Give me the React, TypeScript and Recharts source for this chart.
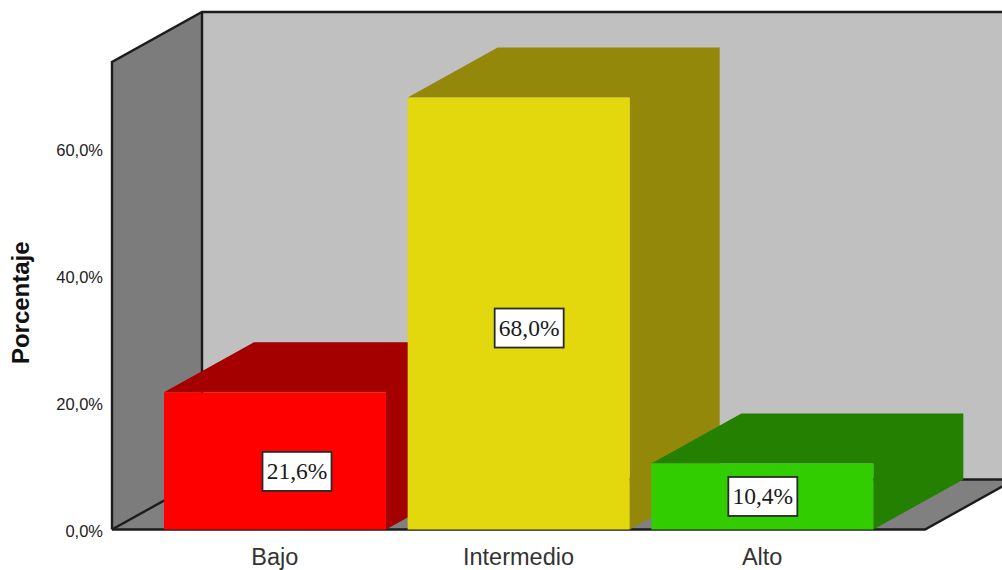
import { BarChart, Bar, XAxis, YAxis, ReferenceArea, LabelList, Label } from "recharts";

const categories = ["Bajo", "Intermedio", "Alto"];
const percentages = [21.6, 68.0, 10.4];
const percentTicks = [0, 20, 40, 60];
const axisMax = 73.6;

const frontColors = ["#ff0000", "#e3d70e", "#32cd00"];
const depthColors = ["#a50000", "#93880a", "#248000"];

// value boxes don't sit exactly at the middle of the front face
const boxShiftX = [22, 10.5, 0.5];
const boxShiftY = [10.5, 14.5, 0];

// oblique projection of the chart's depth
const DEPTH_X = 90;
const DEPTH_Y = 50;
const AXIS_PADDING = 41;

const LINE = "#1c1c1c";

const chartData = categories.map((name, i) => ({ name, value: percentages[i] }));

const formatPercent = (v: number) => `${v.toFixed(1).replace(".", ",")}%`;

// Back wall, side wall and floor of the box. The reference area only spans
// the padded x range, so the axis padding is added back on both sides.
const Walls = ({ x: rangeX, y, width, height }: any) => {
  const x = rangeX - AXIS_PADDING;
  const right = rangeX + width + AXIS_PADDING;
  const bottom = y + height;
  const bx = x + DEPTH_X;
  const by = y - DEPTH_Y;
  const bBottom = bottom - DEPTH_Y;
  return (
    <g>
      <rect x={bx} y={by} width={right - x} height={height} fill="#c0c0c0" />
      <polygon
        points={`${x},${y} ${bx},${by} ${bx},${bBottom} ${x},${bottom}`}
        fill="#7c7c7c"
      />
      <polygon
        points={`${x},${bottom} ${bx},${bBottom} ${right + DEPTH_X},${bBottom} ${right},${bottom}`}
        fill="#808080"
      />
      <g stroke={LINE} strokeWidth={2.4} fill="none">
        <polyline points={`${x},${bottom} ${x},${y} ${bx},${by} ${right + DEPTH_X},${by}`} />
        <line x1={bx} y1={by} x2={bx} y2={bBottom} />
        <polyline points={`${x},${bottom} ${bx},${bBottom} ${right + DEPTH_X},${bBottom}`} />
        <polyline points={`${x},${bottom} ${right},${bottom} ${right + DEPTH_X},${bBottom}`} />
      </g>
    </g>
  );
};

const Box3D = ({ x, y, width, height, index }: any) => {
  const r = x + width;
  const b = y + height;
  return (
    <g>
      <polygon
        points={`${x},${y} ${x + DEPTH_X},${y - DEPTH_Y} ${r + DEPTH_X},${y - DEPTH_Y} ${r + DEPTH_X},${b - DEPTH_Y} ${r},${b} ${r},${y}`}
        fill={depthColors[index]}
      />
      <rect x={x} y={y} width={width} height={height} fill={frontColors[index]} />
    </g>
  );
};

const ValueBox = ({ x, y, width, height, value, index }: any) => {
  const cx = x + width / 2 + boxShiftX[index];
  const cy = y + height / 2 + boxShiftY[index];
  return (
    <g>
      <rect
        x={cx - 34.5}
        y={cy - 19.5}
        width={69}
        height={39}
        fill="#ffffff"
        stroke="#2a2a2a"
        strokeWidth={1.8}
      />
      <text
        x={cx}
        y={cy + 8}
        textAnchor="middle"
        fontFamily="'Liberation Serif', serif"
        fontSize={23.5}
        fill="#1a1a1a"
      >
        {formatPercent(value)}
      </text>
    </g>
  );
};

export default function App() {
  return (
    <div style={{ position: "absolute", left: 0, top: 0, width: 1002, height: 570, background: "#fff", overflow: "hidden" }}>
      <BarChart
        width={1002}
        height={570}
        data={chartData}
        margin={{ top: 62, right: 77, bottom: 0, left: 0 }}
      >
        <XAxis
          dataKey="name"
          height={40.5}
          padding={{ left: AXIS_PADDING, right: AXIS_PADDING }}
          axisLine={false}
          tickLine={false}
          tickMargin={13}
          tick={{ fill: "#333333", fontSize: 23.5, fontFamily: "'Liberation Sans', sans-serif" }}
        />
        <YAxis
          width={112}
          domain={[0, axisMax]}
          ticks={percentTicks}
          axisLine={false}
          tickLine={false}
          tickFormatter={formatPercent}
          tickMargin={3}
          dy={2}
          tick={{ fill: "#222222", fontSize: 16.5, fontFamily: "'Liberation Sans', sans-serif" }}
        >
          <Label
            value="Porcentaje"
            angle={-90}
            position="insideLeft"
            dx={15}
            dy={7}
            style={{
              textAnchor: "middle",
              fontSize: 24,
              fontWeight: "bold",
              fontFamily: "'Liberation Sans', sans-serif",
              fill: "#111111",
            }}
          />
        </YAxis>
        <ReferenceArea y1={0} y2={axisMax} ifOverflow="visible" shape={<Walls />} />
        <Bar dataKey="value" barSize={222} shape={<Box3D />} isAnimationActive={false}>
          <LabelList dataKey="value" content={<ValueBox />} />
        </Bar>
      </BarChart>
    </div>
  );
}
